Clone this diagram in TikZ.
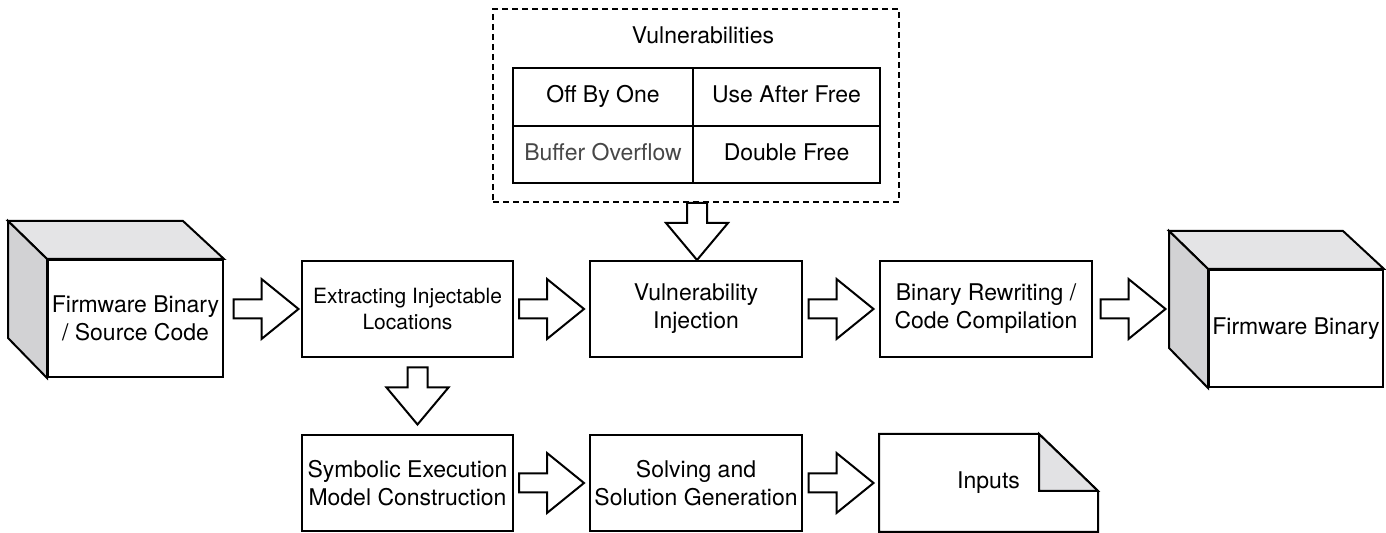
\documentclass[tikz,border=0pt]{standalone}
\usepackage{fontspec}
\setmainfont{TeX Gyre Heros}
\usetikzlibrary{calc}
\definecolor{topgray}{HTML}{E4E4E6}
\definecolor{sidegray}{HTML}{D2D2D4}
\definecolor{foldgray}{HTML}{E2E2E4}
\begin{document}
\begin{tikzpicture}[x=0.5pt,y=-0.5pt,line width=1pt,line join=miter,
  txt/.style={font=\fontsize{11.5}{14}\selectfont},
  box/.style={draw,rectangle,inner sep=0pt,align=center,txt,minimum width=106pt,minimum height=48pt},
  face/.style={draw,rectangle,inner sep=0pt,align=center,txt,minimum width=87.5pt,minimum height=58.5pt},
  cell/.style={draw,rectangle,inner sep=0pt,align=center,txt,minimum height=28.75pt,text height=8.4pt,text depth=2.6pt},
  blk/.style={draw,fill=white,line width=1pt},
  harrow/.pic={\draw[blk] (-32.5,-9.5) -- (-4.5,-9.5) -- (-4.5,-30) -- (32.5,0) -- (-4.5,30) -- (-4.5,9.5) -- (-32.5,9.5) -- cycle;},
  varrow/.pic={\draw[blk] (-10,-28.5) -- (10,-28.5) -- (10,-8.5) -- (31,-8.5) -- (0,28.5) -- (-31,-8.5) -- (-10,-8.5) -- cycle;}
]
\useasboundingbox (0,0) rectangle (1386,533);

% left cube
\node[face] (src) at (135.5,318.5) {Firmware Binary\\/ Source Code};
\draw[fill=topgray] (src.north west) -- ++(-39,-38) -- ++(175,0) -- (src.north east) -- cycle;
\draw[fill=sidegray] (src.north west) -- ++(-39,-38) -- ++(0,117) -- (src.south west) -- cycle;

% right cube
\node[face,minimum width=87pt] (dst) at (1296,328.5) {Firmware Binary};
\draw[fill=topgray] (dst.north west) -- ++(-39,-38) -- ++(174,0) -- (dst.north east) -- cycle;
\draw[fill=sidegray] (dst.north west) -- ++(-39,-38) -- ++(0,117) -- (dst.south west) -- cycle;

% main row
\node[box,minimum width=105.5pt,font=\fontsize{10.5}{13}\selectfont] (ext) at (407.5,309) {Extracting Injectable\\Locations};
\node[box] (inj) at (696,309) {Vulnerability\\Injection};
\node[box] (rew) at (986,309) {Binary Rewriting /\\Code Compilation};

% bottom row
\node[box,minimum width=105.5pt] (sym) at (407.5,483) {Symbolic Execution\\Model Construction};
\node[box] (sol) at (696,483) {Solving and\\Solution Generation};
\node[inner sep=0pt,minimum width=108.5pt,minimum height=48pt,txt] (inp) at (988.5,483) {Inputs};
\draw (inp.north west) -- ($(inp.north east)+(-59,0)$) -- ($(inp.north east)+(0,57)$) -- (inp.south east) -- (inp.south west) -- cycle;
\draw[fill=foldgray] ($(inp.north east)+(-59,0)$) -- ($(inp.north east)+(-59,57)$) -- ($(inp.north east)+(0,57)$) -- cycle;

% vulnerabilities box
\node[draw,dash pattern=on 3pt off 2pt,inner sep=0pt,minimum width=203pt,minimum height=96.5pt] (vbox) at (696,105.5) {};
\node[txt,inner sep=0pt] (vtitle) at (703,35) {Vulnerabilities};
\node[cell,minimum width=90pt] (c11) at (603,97) {Off By One};
\node[cell,minimum width=93.5pt] (c12) at (786.5,97) {Use After Free};
\node[cell,minimum width=90pt,text=black!72] (c21) at (603,154.5) {Buffer Overflow};
\node[cell,minimum width=93.5pt] (c22) at (786.5,154.5) {Double Free};

% block arrows
\pic at ($(src.east)+(42,-9.5)$) {harrow};
\pic at ($(ext.east)!0.5!(inj.west)$) {harrow};
\pic at ($(inj.east)!0.5!(rew.west)$) {harrow};
\pic at ($(rew.east)+(40,0)$) {harrow};
\pic at ($(sym.east)!0.5!(sol.west)$) {harrow};
\pic at ($(sol.east)!0.5!(inp.west)$) {harrow};
\pic at ($(vbox.south)!0.5!(inj.north)+(1,0)$) {varrow};
\pic at ($(ext.south)!0.5!(sym.north)+(10,0)$) {varrow};
\end{tikzpicture}
\end{document}
